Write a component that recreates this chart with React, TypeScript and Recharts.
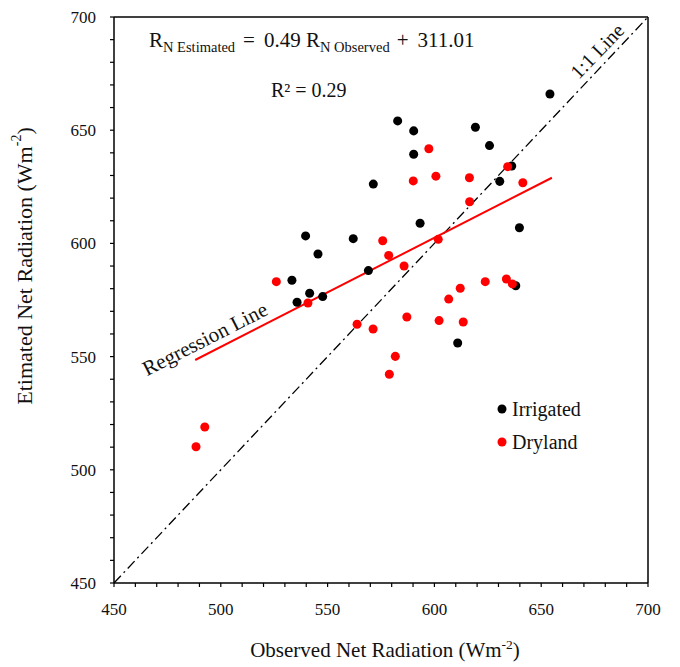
import { ScatterChart, Scatter, XAxis, YAxis, ZAxis, ReferenceLine } from 'recharts';

// Irrigated sites (observed, estimated) in W m-2
const irrigatedObserved = [654.1, 582.8, 590.3, 619.2, 625.8, 590.3, 636.2, 571.4, 630.6, 593.3, 639.8, 539.7, 562.0, 545.5, 569.1, 533.3, 541.6, 535.7, 547.7, 638.1, 610.9];
const irrigatedEstimated = [666.0, 654.1, 649.7, 651.3, 643.2, 639.4, 634.2, 626.2, 627.4, 608.9, 606.9, 603.3, 602.1, 595.3, 588.0, 583.7, 578.0, 574.0, 576.5, 581.3, 556.0];

// Dryland sites
const drylandObserved = [597.4, 634.3, 590.1, 600.7, 616.4, 641.4, 616.5, 575.8, 601.8, 578.6, 585.8, 526.0, 540.8, 623.8, 633.7, 636.5, 612.1, 606.7, 563.8, 571.3, 587.1, 602.2, 613.5, 581.7, 578.9, 492.5, 488.4];
const drylandEstimated = [641.8, 633.9, 627.6, 629.7, 629.0, 626.8, 618.4, 601.2, 601.8, 594.7, 590.0, 583.1, 573.7, 583.1, 584.3, 582.1, 580.2, 575.4, 564.3, 562.2, 567.5, 565.9, 565.3, 550.1, 542.2, 518.9, 510.2];

// fitted line ends as drawn, and the 1:1 line
const regressionLine = [{ x: 488, y: 548.5 }, { x: 655, y: 629 }];
const oneToOneLine = [{ x: 450, y: 450 }, { x: 700, y: 700 }];

const axisDomain: [number, number] = [450, 700];
const axisTicks = [450, 460, 470, 480, 490, 500, 510, 520, 530, 540, 550, 560, 570, 580, 590, 600, 610, 620, 630, 640, 650, 660, 670, 680, 690, 700];
const labelledTicks = [450, 500, 550, 600, 650, 700];

const irrigated = irrigatedObserved.map((x, i) => ({ x, y: irrigatedEstimated[i] }));
const dryland = drylandObserved.map((x, i) => ({ x, y: drylandEstimated[i] }));

const FONT = '"Liberation Serif", "Times New Roman", serif';
const tickStyle = { fontSize: 17, fontFamily: FONT, fill: '#111' };
const fmt = (v: number) => (labelledTicks.includes(v) ? String(v) : '');

export default function App() {
  return (
    <div style={{ position: 'absolute', left: 0, top: 0, width: 680, height: 667, background: '#fff' }}>
      <ScatterChart width={680} height={667} margin={{ top: 17, right: 32, bottom: 44, left: 0 }}>
        <XAxis
          type="number" dataKey="x" domain={axisDomain} ticks={axisTicks} interval={0}
          tickFormatter={fmt} tick={tickStyle} tickSize={4} tickMargin={16} height={40}
          axisLine={{ stroke: '#000', strokeWidth: 1.5 }} tickLine={{ stroke: '#000', strokeWidth: 1.2 }}
          allowDataOverflow
        />
        <YAxis
          type="number" dataKey="y" domain={axisDomain} ticks={axisTicks} interval={0}
          tickFormatter={fmt} tick={tickStyle} tickSize={4} tickMargin={14} width={114}
          axisLine={{ stroke: '#000', strokeWidth: 1.5 }} tickLine={{ stroke: '#000', strokeWidth: 1.2 }}
          allowDataOverflow
        />
        <ZAxis range={[80, 80]} />
        <ReferenceLine y={700} stroke="#000" strokeWidth={1.5} />
        <ReferenceLine x={700} stroke="#000" strokeWidth={1.5} />
        <ReferenceLine segment={oneToOneLine} stroke="#000" strokeWidth={1.3} strokeDasharray="10 4 2 4" />
        <ReferenceLine segment={regressionLine} stroke="#ff0000" strokeWidth={2} />
        <Scatter name="Irrigated" data={irrigated} fill="#000" shape="circle" isAnimationActive={false} />
        <Scatter name="Dryland" data={dryland} fill="#ff0000" shape="circle" isAnimationActive={false} />
      </ScatterChart>

      <svg width={680} height={667} style={{ position: 'absolute', left: 0, top: 0, pointerEvents: 'none' }}
        fontFamily={FONT} fill="#111">
        <text x={149} y={47} fontSize={21}>
          R<tspan fontSize={14.5} dy={5}>N Estimated</tspan>
          <tspan dy={-5} dx={8}>=</tspan>
          <tspan dx={9}>0.49 R</tspan>
          <tspan fontSize={14.5} dy={5}>N Observed</tspan>
          <tspan dy={-5} dx={7}>+</tspan>
          <tspan dx={9}>311.01</tspan>
        </text>
        <text x={271} y={97} fontSize={20}>R² = 0.29</text>
        <text x={597} y={51} fontSize={20} textAnchor="middle" dominantBaseline="central"
          transform="rotate(-46 597 51)">1:1 Line</text>
        <text x={205} y={339} fontSize={21} textAnchor="middle" dominantBaseline="central"
          transform="rotate(-27 205 339)">Regression Line</text>

        <circle cx={502} cy={409} r={4.5} fill="#000" />
        <text x={512} y={409} fontSize={20} dominantBaseline="central">Irrigated</text>
        <circle cx={502} cy={442} r={4.5} fill="#ff0000" />
        <text x={512} y={442} fontSize={20} dominantBaseline="central">Dryland</text>

        <text x={385} y={657} fontSize={21} textAnchor="middle">
          Observed Net Radiation (Wm<tspan fontSize={13.5} dy={-8}>-2</tspan><tspan dy={8}>)</tspan>
        </text>
        <text x={24} y={266} fontSize={22} textAnchor="middle" dominantBaseline="central"
          transform="rotate(-90 24 266)">
          Etimated Net Radiation (Wm<tspan fontSize={14} dy={-8}>-2</tspan><tspan dy={8}>)</tspan>
        </text>
      </svg>
    </div>
  );
}
